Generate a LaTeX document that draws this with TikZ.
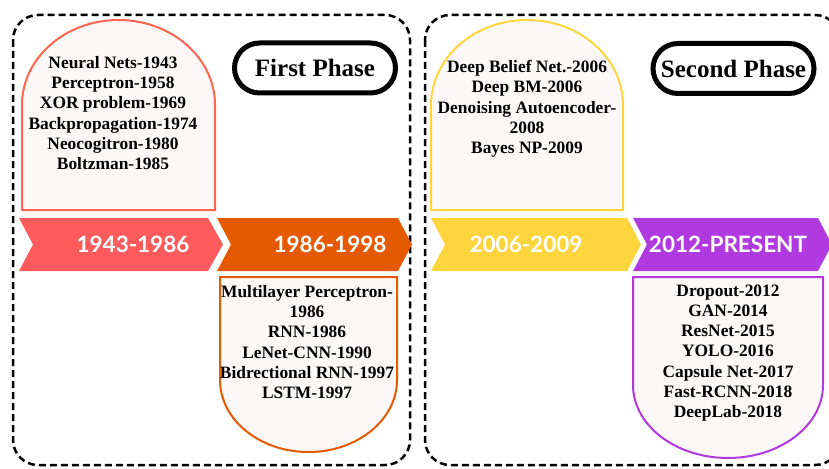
\documentclass[tikz,border=0pt]{standalone}
\usepackage{fontspec}
\setmainfont{Liberation Serif}
\newfontfamily\latofont{Lato}
\definecolor{cRed}{HTML}{FF5A5C}
\definecolor{cRedB}{HTML}{FF654F}
\definecolor{cOrange}{HTML}{E55A00}
\definecolor{cYellow}{HTML}{FFD53E}
\definecolor{cPurple}{HTML}{B03ADF}
\definecolor{cFill}{HTML}{FDF8F8}
\tikzset{
  phasebox/.style={draw=black, line width=2.5pt, dash pattern=on 7pt off 4pt, rounded corners=25pt},
  archbox/.style={fill=cFill, line width=2pt},
  chevtext/.style={text=white, font=\latofont\bfseries\fontsize{22.5}{24}\selectfont},
  itemtext/.style={font=\bfseries\fontsize{17.4}{20.3}\selectfont, align=center, inner sep=0pt},
  pill/.style={draw=black, line width=5pt, rounded corners=25pt, minimum width=161pt, minimum height=50pt, inner sep=0pt, font=\bfseries\fontsize{25}{28}\selectfont},
}
\begin{document}
\begin{tikzpicture}[x=1pt,y=-1pt]
\useasboundingbox (0,0) rectangle (829,468);
\clip (0,0) rectangle (829,468);
% phase frames
\draw[phasebox] (13,15) rectangle (410,465);
\draw[phasebox] (425,15) rectangle (840,465);
% arch boxes
\draw[archbox, draw=cRedB] (22,210) -- (22,105) arc[start angle=180, end angle=270, x radius=96.5, y radius=85] arc[start angle=270, end angle=360, x radius=96.5, y radius=85] -- (215,210) -- cycle;
\draw[archbox, draw=cYellow] (431,210) -- (431,105) arc[start angle=180, end angle=270, x radius=96, y radius=85] arc[start angle=270, end angle=360, x radius=96, y radius=85] -- (623,210) -- cycle;
\draw[archbox, draw=cOrange] (220,277) -- (397,277) -- (397,380) arc[start angle=0, end angle=180, x radius=88.5, y radius=72] -- cycle;
\draw[archbox, draw=cPurple] (633,277) -- (823,277) -- (823,385) arc[start angle=0, end angle=180, x radius=95, y radius=73] -- cycle;
% chevrons
\fill[cRed] (19,218) -- (208,218) -- (223,244.5) -- (208,271) -- (19,271) -- (33,244.5) -- cycle;
\fill[cOrange] (217,218) -- (398,218) -- (412,244.5) -- (398,271) -- (217,271) -- (231,244.5) -- cycle;
\fill[cYellow] (431,218) -- (627,218) -- (641,244.5) -- (627,271) -- (431,271) -- (445,244.5) -- cycle;
\fill[cPurple] (633,218) -- (818,218) -- (832,244.5) -- (818,271) -- (633,271) -- (647,244.5) -- cycle;
\node[chevtext] (t1) at (133,244.5) {1943-1986};
\node[chevtext] (t2) at (330,244.5) {1986-1998};
\node[chevtext] (t3) at (526,244.5) {2006-2009};
\node[chevtext] (t4) at (728,244.5) {2012-PRESENT};
% pills
\node[pill] (p1) at (315,68) {First Phase};
\node[pill] (p2) at (733.5,68.5) {Second Phase};
% item texts
\node[itemtext] (i1) at (113,113) {Neural Nets-1943\\Perceptron-1958\\XOR problem-1969\\Backpropagation-1974\\Neocogitron-1980\\Boltzman-1985};
\node[itemtext] (i2) at (307,342) {Multilayer Perceptron-\\1986\\RNN-1986\\LeNet-CNN-1990\\Bidrectional RNN-1997\\LSTM-1997};
\node[itemtext] (i3) at (527,109) {Deep Belief Net.-2006\\Deep BM-2006\\Denoising Autoencoder-\\2008\\Bayes NP-2009};
\node[itemtext] (i4) at (728,353) {Dropout-2012\\GAN-2014\\ResNet-2015\\YOLO-2016\\Capsule Net-2017\\Fast-RCNN-2018\\DeepLab-2018};
\end{tikzpicture}
\end{document}
